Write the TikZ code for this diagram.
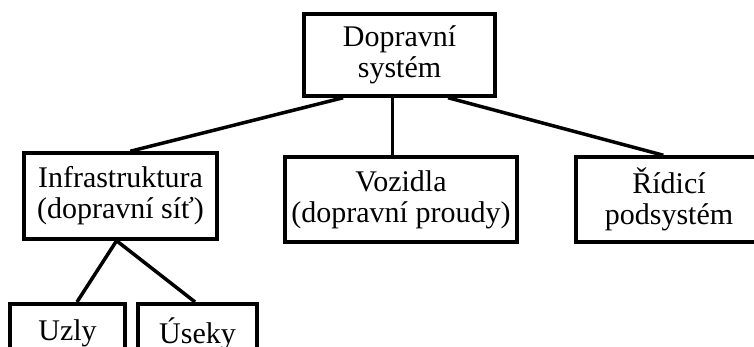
\documentclass[tikz,border=0pt]{standalone}
\usepackage{fontspec}
\setmainfont{Liberation Serif}
\usetikzlibrary{calc}
\tikzset{
  box/.style={draw, line width=3.5pt, align=center, inner sep=0pt,
    font=\fontsize{30}{31}\selectfont},
  link/.style={line width=3.5pt},
}
\begin{document}
\begin{tikzpicture}[x=1pt,y=-1pt]
    \useasboundingbox (0,0) rectangle (754,347);
    \clip (0,0) rectangle (754,347);

    % horní úroveň
    \node[box, minimum width=191pt, minimum height=82pt] (sys) at (399.5,55) {Dopravní\\systém};

    % druhá úroveň
    \node[box, minimum width=193pt, minimum height=86pt] (infra) at (120.5,196) {Infrastruktura\\(dopravní síť)};
    \node[box, minimum width=232pt, minimum height=85pt] (voz) at (401,199.5) {Vozidla\\(dopravní proudy)};
    \node[box, minimum width=186pt, minimum height=85pt] (ridici) at (669,199.5) {Řídicí\\podsystém};

    % třetí úroveň
    \node[box, anchor=north, minimum width=115pt, minimum height=60pt] (uzly) at (67.5,302) {Uzly};
    \node[box, anchor=north, minimum width=119pt, minimum height=60pt] (useky) at (197.5,302) {Úseky};

    % spojnice
    \draw[link] ($(sys.south west)!0.21!(sys.south east)$) -- ($(infra.north west)!0.55!(infra.north east)$);
    \draw[link] ($(sys.south)+(-7pt,0)$) -- ($(sys.south |- voz.north)+(-7pt,0)$);
    \draw[link] ($(sys.south west)!0.75!(sys.south east)$) -- ($(ridici.north west)!0.47!(ridici.north east)$);
    \coordinate (infra-out) at ($(infra.south west)!0.48!(infra.south east)$);
    \draw[link] (infra-out) -- ($(uzly.north west)!0.58!(uzly.north east)$);
    \draw[link] (infra-out) -- ($(useky.north west)!0.48!(useky.north east)$);
\end{tikzpicture}
\end{document}
